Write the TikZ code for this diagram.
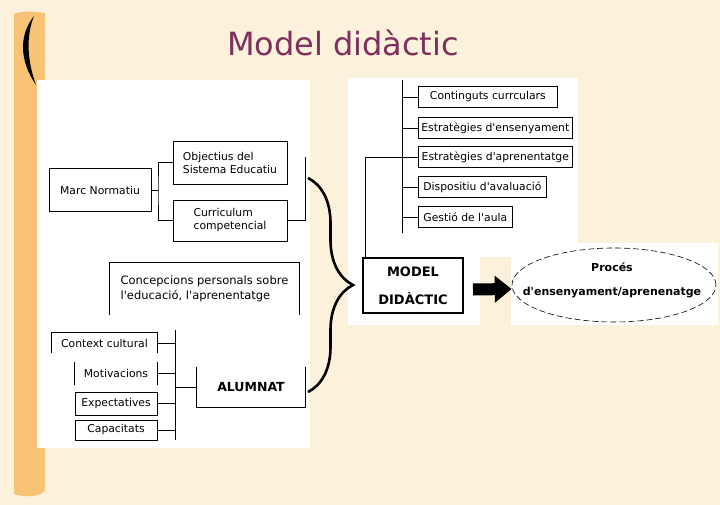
\documentclass[tikz,border=0pt]{standalone}
\usepackage{fontspec}
\setmainfont{DejaVu Sans}[Ligatures=TeXOff]
\usetikzlibrary{shapes.geometric,arrows.meta,decorations.pathreplacing}
\definecolor{paper}{HTML}{FCF1DA}
\definecolor{barorange}{HTML}{F8C374}
\definecolor{titlepurple}{HTML}{7D2F5E}
\tikzset{
  box/.style={draw, line width=0.7pt, inner sep=2pt, align=left, font=\fontsize{10.8}{13}\selectfont},
  openbox/.style={box, draw=none},
  link/.style={line width=0.7pt},
}
\begin{document}
\begin{tikzpicture}[x=1pt,y=-1pt]
        %% Background
        \fill[paper] (0,0) rectangle (720,505);
        \useasboundingbox (0,0) rectangle (720,505);
        \fill[barorange] (14,14) .. controls (24,10) and (36,12) .. (45,13) -- (45,490)
            .. controls (40,498) and (22,497) .. (14,494) -- cycle;
        \fill[black] (34,16) .. controls (19,35) and (19,60) .. (36,85)
            .. controls (27,60) and (26,36) .. (34,16) -- cycle;
        \node[font=\fontsize{32}{36}\selectfont, text=titlepurple] (title) at (343,43) {Model didàctic};
        %% Panels
        \fill[white] (37,80) rectangle (310,448);
        \fill[white] (348,78) rectangle (578,257);
        \fill[white] (348,257) rectangle (480,325);
        \fill[white] (511,243) rectangle (718,325);
        %% Left panel, top
        \node[box, minimum width=102pt, minimum height=43pt] (marc) at (100,190) {Marc Normatiu};
        \node[box, minimum width=114pt, minimum height=43pt] (obj) at (230,162.5) {Objectius del\\Sistema Educatiu};
        \node[box, minimum width=114pt, minimum height=41pt] (curr) at (230,220.5) {Curriculum\\competencial};
            \coordinate (mfork) at (158,190);
            \coordinate (cjoin) at (305,157);
            \draw[link] (marc.east) -- (mfork);
            \draw[link] (obj.west) -| (mfork) |- (curr.west);
            \draw[link] (curr.east) -| (cjoin);
        \node[openbox, font=\fontsize{11.5}{15}\selectfont, minimum width=189pt, minimum height=52pt] (conc) at (204.5,289)
            {Concepcions personals sobre\\l'educació, l'aprenentatge};
            \draw[link] (conc.south west) |- (conc.north east) -- (conc.south east);
        %% Left panel, bottom
        \node[openbox, minimum width=105pt, minimum height=20pt] (ctx) at (104.5,343) {Context cultural};
            \draw[link] (ctx.south west) |- (ctx.north east) -- (ctx.south east);
        \node[openbox, minimum width=82pt, minimum height=23pt] (mot) at (116,373.5) {Motivacions};
            \draw[link] (mot.north west) -- (mot.south west) (mot.north east) -- (mot.south east);
        \node[box, minimum width=82pt, minimum height=23pt] (expc) at (116,403.5) {Expectatives};
        \node[box, minimum width=82pt, minimum height=20pt] (cap) at (116,430) {Capacitats};
        \node[openbox, font=\fontsize{12.5}{14}\selectfont\bfseries, minimum width=108pt, minimum height=40pt] (alum) at (251,387) {ALUMNAT};
            \draw[link] (alum.north west) |- (alum.south east) -- (alum.north east);
            \coordinate (atop) at (175,330);
            \coordinate (abot) at (175,440);
            \draw[link] (atop) -- (abot);
            \foreach \n in {ctx,mot,expc,cap}
                \draw[link] (\n.east) -- (\n.east -| atop);
            \draw[link] (alum.west) -- (alum.west -| atop);
        %% Brace
        \coordinate (btop) at (308,178);
        \coordinate (bbot) at (308,392);
        \draw[line width=2.6pt, decorate, decoration={brace, amplitude=45pt}] (btop) -- (bbot);
        %% Right panel
        \coordinate (rtop) at (402,80);
        \coordinate (rbot) at (402,233);
        \draw[link] (rtop) -- (rbot);
        \node[box, anchor=west, minimum width=139pt, minimum height=21pt] (cont) at (418,97)  {Continguts currculars};
        \node[box, anchor=west, minimum width=154pt, minimum height=21pt] (ens)  at (418,128) {Estratègies d'ensenyament};
        \node[box, anchor=west, minimum width=154pt, minimum height=21pt] (apr)  at (418,157) {Estratègies d'aprenentatge};
        \node[box, anchor=west, minimum width=128pt, minimum height=21pt] (disp) at (418,187) {Dispositiu d'avaluació};
        \node[box, anchor=west, minimum width=94pt,  minimum height=21pt] (gest) at (418,217) {Gestió de l'aula};
            \foreach \n in {cont,ens,apr,disp,gest}
                \draw[link] (\n.west) -- (\n.west -| rtop);
        \node[box, line width=2pt, align=center, font=\fontsize{13}{28}\selectfont\bfseries,
              minimum width=100pt, minimum height=55pt] (model) at (413,285.5) {MODEL\\DIDÀCTIC};
            \draw[link] (apr.west) -| ([xshift=3pt]model.north west);
        %% Process
        \node[ellipse, draw, line width=0.6pt, dash pattern=on 6pt off 3pt,
              minimum width=204pt, minimum height=74pt] (proc) at (614,285) {};
        \node[align=center, font=\fontsize{11}{24}\selectfont\bfseries] (proctext) at (612,280)
            {Procés\\d'ensenyament/aprenenatge};
            \draw[line width=12pt, -{Triangle[length=17pt,width=26pt]}]
                ([xshift=9pt,yshift=-4pt]model.east) -- ([yshift=-4pt]proc.west);
\end{tikzpicture}
\end{document}
